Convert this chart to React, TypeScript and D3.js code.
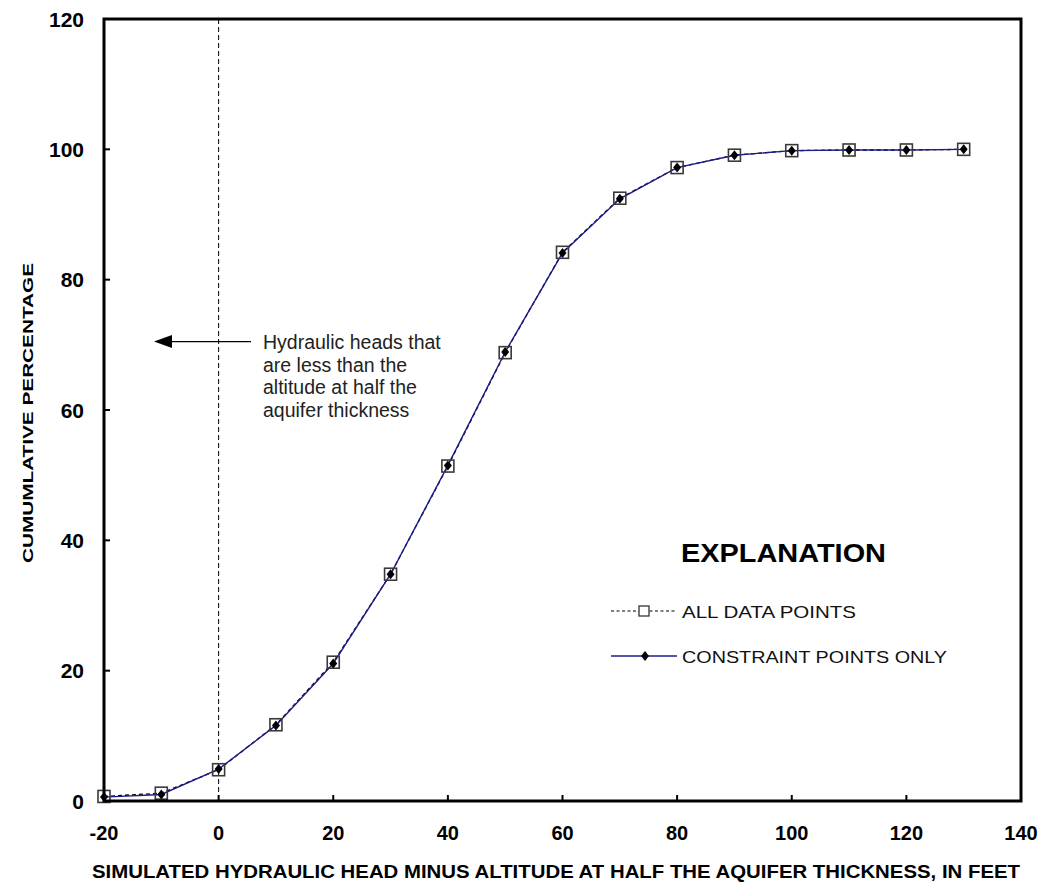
import React from 'react';
import * as d3 from 'd3';

// simulated head minus altitude at half aquifer thickness (ft)
const headValues = [-20, -10, 0, 10, 20, 30, 40, 50, 60, 70, 80, 90, 100, 110, 120, 130];
// cumulative percentage, all data points
const allPoints = [0.7, 1.2, 4.8, 11.7, 21.3, 34.8, 51.4, 68.8, 84.2, 92.5, 97.2, 99.1, 99.8, 99.9, 99.9, 100];
// cumulative percentage, constraint points only
const constraintPoints = [0.6, 1.0, 4.9, 11.6, 21.1, 34.8, 51.5, 68.9, 84.1, 92.4, 97.2, 99.1, 99.8, 99.9, 99.9, 100];

const xTicks = [-20, 0, 20, 40, 60, 80, 100, 120, 140];
const yTicks = [0, 20, 40, 60, 80, 100, 120];

const annotationLines = [
  'Hydraulic heads that',
  'are less than the',
  'altitude at half the',
  'aquifer thickness',
];

const FONT = '"Liberation Sans", Arial, sans-serif';

export default function App() {
  const width = 1041;
  const height = 886;
  const margin = { top: 19, right: 20, bottom: 85, left: 104 };

  const x = d3.scaleLinear().domain([-20, 140]).range([margin.left, width - margin.right]);
  const y = d3.scaleLinear().domain([0, 120]).range([height - margin.bottom, margin.top]);

  const lineGen = d3
    .line<number>()
    .x((_, i) => x(headValues[i]))
    .y((d) => y(d));

  const diamond = (cx: number, cy: number, r: number) =>
    `M${cx},${cy - r - 1}L${cx + r},${cy}L${cx},${cy + r + 1}L${cx - r},${cy}Z`;

  const arrowY = y(70.5);

  return (
    <svg
      width={width}
      height={height}
      style={{ position: 'absolute', left: 0, top: 0, background: '#fff' }}
      fontFamily={FONT}
    >
      {/* zero line */}
      <line
        x1={x(0)}
        x2={x(0)}
        y1={y(120)}
        y2={y(0)}
        stroke="#000"
        strokeWidth={1}
        strokeDasharray="5,3"
      />

      {/* inner ticks */}
      {xTicks.map((t) => (
        <line key={'xt' + t} x1={x(t)} x2={x(t)} y1={y(0)} y2={y(0) - 6} stroke="#000" strokeWidth={2} />
      ))}
      {yTicks.map((t) => (
        <line key={'yt' + t} x1={x(-20)} x2={x(-20) + 6} y1={y(t)} y2={y(t)} stroke="#000" strokeWidth={2} />
      ))}

      {/* series */}
      <path d={lineGen(allPoints) || ''} fill="none" stroke="#000" strokeWidth={1.3} strokeDasharray="4,3" />
      <path d={lineGen(constraintPoints) || ''} fill="none" stroke="#1c1c8a" strokeWidth={1.4} />
      {allPoints.map((v, i) => (
        <rect
          key={'sq' + i}
          x={x(headValues[i]) - 6}
          y={y(v) - 6}
          width={12}
          height={12}
          fill="none"
          stroke="#3a3a3a"
          strokeWidth={1.6}
        />
      ))}
      {constraintPoints.map((v, i) => (
        <path key={'dm' + i} d={diamond(x(headValues[i]), y(v), 4)} fill="#000" />
      ))}

      {/* frame */}
      <rect
        x={x(-20)}
        y={y(120)}
        width={x(140) - x(-20)}
        height={y(0) - y(120)}
        fill="none"
        stroke="#000"
        strokeWidth={3}
      />

      {/* tick labels */}
      {xTicks.map((t) => (
        <text key={'xl' + t} x={x(t)} y={y(0) + 39} textAnchor="middle" fontSize={20} fontWeight="bold">
          {t}
        </text>
      ))}
      {yTicks.map((t) => (
        <text key={'yl' + t} x={84} y={y(t)} dy="0.36em" textAnchor="end" fontSize={21} fontWeight="bold">
          {t}
        </text>
      ))}

      {/* axis titles */}
      <text
        x={556}
        y={878}
        textAnchor="middle"
        fontSize={19}
        fontWeight="bold"
        textLength={928}
        lengthAdjust="spacingAndGlyphs"
      >
        SIMULATED HYDRAULIC HEAD MINUS ALTITUDE AT HALF THE AQUIFER THICKNESS, IN FEET
      </text>
      <text
        transform="translate(33,413) rotate(-90)"
        textAnchor="middle"
        fontSize={15}
        fontWeight="bold"
        textLength={300}
        lengthAdjust="spacingAndGlyphs"
      >
        CUMUMLATIVE PERCENTAGE
      </text>

      {/* annotation */}
      <line x1={170} x2={251} y1={arrowY} y2={arrowY} stroke="#000" strokeWidth={1.3} />
      <path d={`M154,${arrowY}L172,${arrowY - 6.5}L172,${arrowY + 6.5}Z`} fill="#000" />
      {annotationLines.map((s, i) => (
        <text key={'an' + i} x={263} y={349 + i * 22.6} fontSize={19.5} fill="#222">
          {s}
        </text>
      ))}

      {/* legend */}
      <text x={681} y={562} fontSize={26} fontWeight="bold" textLength={205} lengthAdjust="spacingAndGlyphs">
        EXPLANATION
      </text>
      <line x1={611} x2={677} y1={611} y2={611} stroke="#000" strokeWidth={1.2} strokeDasharray="3,2.5" />
      <rect x={639} y={606} width={10} height={10} fill="#fff" stroke="#333" strokeWidth={1.3} />
      <text x={682} y={617.5} fontSize={17} fill="#111" textLength={174} lengthAdjust="spacingAndGlyphs">
        ALL DATA POINTS
      </text>
      <line x1={611} x2={677} y1={656} y2={656} stroke="#1c1c8a" strokeWidth={1.4} />
      <path d={diamond(645, 656, 4)} fill="#000" />
      <text x={682} y={662.5} fontSize={17} fill="#111" textLength={265} lengthAdjust="spacingAndGlyphs">
        CONSTRAINT POINTS ONLY
      </text>
    </svg>
  );
}
